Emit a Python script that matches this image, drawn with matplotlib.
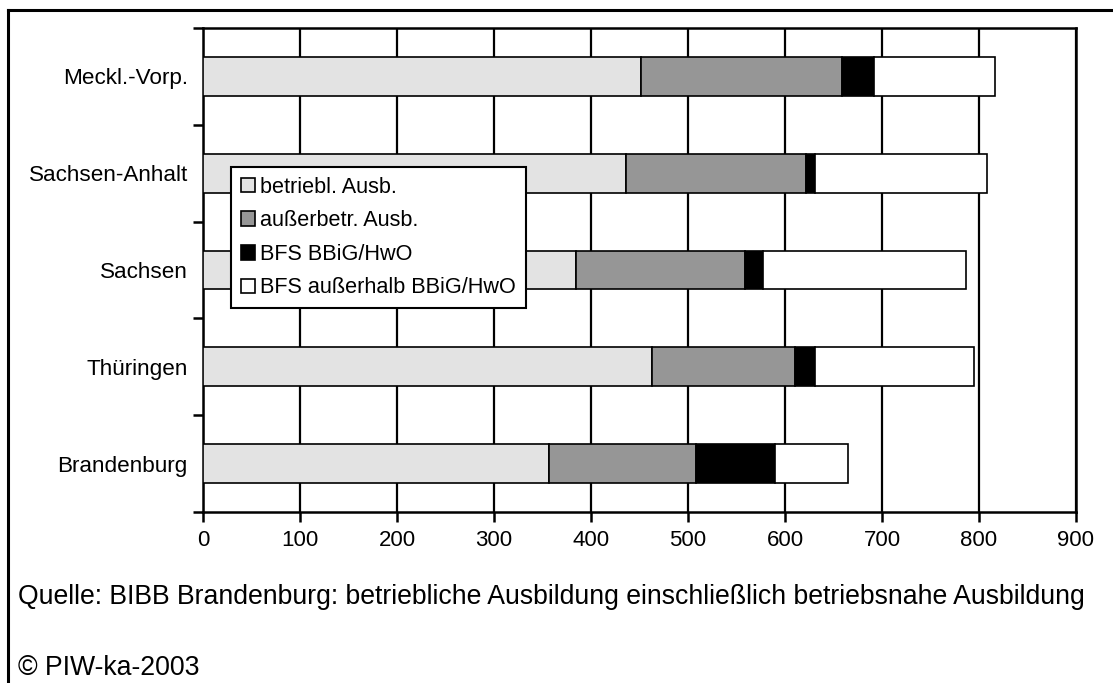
import matplotlib
matplotlib.use("Agg")
import matplotlib.pyplot as plt
from matplotlib.lines import Line2D
from matplotlib.patches import Patch
import numpy as np

plt.rcParams['font.family'] = ['Liberation Sans', 'DejaVu Sans']

categories = ["Brandenburg", "Thüringen", "Sachsen", "Sachsen-Anhalt", "Meckl.-Vorp."]
betriebl = [357, 463, 385, 436, 452]
ausserbetr = [151, 147, 173.5, 186, 206.5]
bfs_bbig = [82, 21, 19.2, 8.6, 33.5]
bfs_ausserhalb = [75, 164, 209.3, 177.4, 124]
series = [betriebl, ausserbetr, bfs_bbig, bfs_ausserhalb]
series_names = ["betriebl. Ausb.", "außerbetr. Ausb.", "BFS BBiG/HwO", "BFS außerhalb BBiG/HwO"]
colors = ["#e3e3e3", "#969696", "#000000", "#ffffff"]
xticks = [0, 100, 200, 300, 400, 500, 600, 700, 800, 900]

fig = plt.figure(figsize=(11.13, 6.83), dpi=100)
ax = fig.add_axes([203/1113, 1-512/683, 873/1113, 484/683])

y = np.arange(len(categories))
left = np.zeros(len(categories))
for vals, name, c in zip(series, series_names, colors):
    ax.barh(y, vals, left=left, height=0.4, color=c, edgecolor="black",
            linewidth=1.2, label=name, zorder=3)
    left += np.array(vals)

ax.set_xlim(0, 900)
ax.set_ylim(-0.5, len(categories) - 0.5)
ax.set_xticks(xticks)
ax.set_xticklabels([str(v) for v in xticks], fontsize=16)
ax.set_yticks(y)
ax.set_yticklabels(categories, fontsize=16.2)
ax.set_yticks(np.arange(-0.5, len(categories)), minor=True)
ax.tick_params(axis='y', which='major', length=0, pad=11)
ax.tick_params(axis='y', which='minor', length=7, width=1.8, direction='out')
ax.tick_params(axis='x', length=7, width=1.8, direction='out', pad=6)
ax.xaxis.grid(True, color='black', linewidth=1.6, zorder=0)
ax.set_axisbelow(True)
for s in ax.spines.values():
    s.set_linewidth(1.8)
    s.set_color('black')

handles = [Patch(facecolor=c, edgecolor='black', linewidth=1.2) for c in colors]
leg = ax.legend(handles, series_names, loc='upper left',
                bbox_to_anchor=((231-203)/873, (512-167)/484),
                fontsize=15.6, frameon=True, fancybox=False, edgecolor='black',
                framealpha=1, handlelength=0.65, handleheight=0.65,
                handletextpad=0.25, labelspacing=0.58, borderpad=0.45,
                borderaxespad=0)
leg.get_frame().set_linewidth(1.5)
leg.set_zorder(10)

fig.text(18/1113, 1-597/683, "Quelle: BIBB Brandenburg: betriebliche Ausbildung einschließlich betriebsnahe Ausbildung",
         fontsize=19.2, va='center', ha='left')
fig.text(18/1113, 1-668/683, "© PIW-ka-2003", fontsize=19.2, va='center', ha='left')

# outer frame (left and top visible)
fig.add_artist(Line2D([8/1113, 8/1113], [-0.1, 1-10/683], transform=fig.transFigure,
                      color='black', linewidth=2.2))
fig.add_artist(Line2D([8/1113, 1.1], [1-10/683, 1-10/683], transform=fig.transFigure,
                      color='black', linewidth=2.2))

fig.savefig("out.png", dpi=100)
